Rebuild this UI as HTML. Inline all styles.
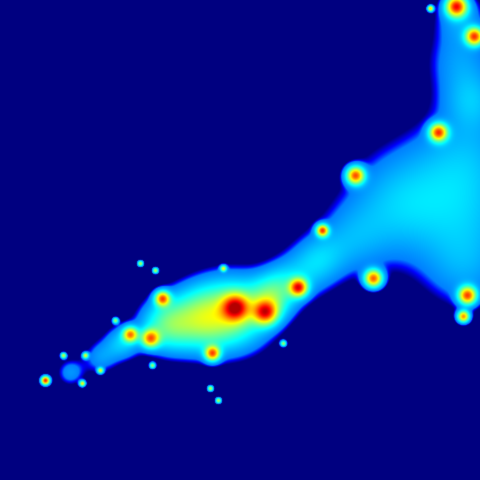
<!DOCTYPE html>
<html>
<head>
<meta charset="utf-8">
<style>
  html, body {
    margin: 0;
    padding: 0;
    background: #00007f;
  }
  #plot {
    display: block;
    width: 480px;
    height: 480px;
  }
</style>
</head>
<body>
<canvas id="plot" width="480" height="480"></canvas>
<script>
// Blob data: centre x, centre y, spread, intensity
const blobX = [430, 390, 465, 460, 350, 300, 470, 460, 320, 280, 100, 70, 235, 200, 165, 270, 122, 472, 480, 438, 355, 322, 373, 298, 235, 265, 162, 150, 130, 212, 467, 463, 456, 474, 45, 140, 155, 223, 283, 218, 210, 82, 63, 85, 100, 115, 152, 430];
const blobY = [200, 205, 270, 60, 240, 275, 150, 15, 258, 285, 357, 372, 312, 318, 325, 300, 342, 100, 215, 132, 175, 230, 278, 287, 307, 312, 298, 338, 334, 353, 295, 316, 6, 36, 380, 263, 270, 268, 343, 400, 388, 383, 355, 355, 370, 320, 365, 8];
const blobR = [45, 35, 30, 25, 25, 20, 35, 18, 18, 15, 12, 10, 25, 22, 18, 15, 12, 20, 35, 6, 6, 4, 6, 6, 9, 8, 5, 6, 5, 5, 6, 4, 7, 6, 3, 2, 2, 2, 2, 2, 2, 2, 2, 2, 2, 2, 2, 2];
const blobA = [0.11, 0.08, 0.09, 0.1, 0.09, 0.1, 0.09, 0.1, 0.1, 0.1, 0.1, 0.1, 0.3, 0.3, 0.25, 0.2, 0.15, 0.1, 0.06, 0.6, 0.6, 0.6, 0.6, 0.6, 0.5, 0.5, 0.55, 0.5, 0.5, 0.55, 0.6, 0.55, 0.65, 0.6, 0.7, 0.4, 0.4, 0.4, 0.35, 0.4, 0.4, 0.45, 0.4, 0.4, 0.4, 0.35, 0.35, 0.5];

// Jet colour map: value 0..1 -> [r, g, b]
function jet(v) {
  const r = Math.min(Math.max(1.5 - Math.abs(4 * v - 3), 0), 1);
  const g = Math.min(Math.max(1.5 - Math.abs(4 * v - 2), 0), 1);
  const b = Math.min(Math.max(1.5 - Math.abs(4 * v - 1), 0), 1);
  return [r * 255, g * 255, b * 255];
}

const cv = document.getElementById('plot');
const ctx = cv.getContext('2d');
const img = ctx.createImageData(480, 480);

for (let y = 0; y < 480; y++) {
  for (let x = 0; x < 480; x++) {
    let f = 0;
    for (let i = 0; i < blobX.length; i++) {
      const dx = x - blobX[i];
      const dy = y - blobY[i];
      const r = blobR[i];
      f += blobA[i] * Math.exp(-(dx * dx + dy * dy) / (2 * r * r));
    }
    let v;
    if (f < 0.05) v = 0;
    else if (f < 0.08) v = (f - 0.05) / 0.03 * 0.25;
    else v = Math.min(0.25 + (f - 0.08) * 0.95, 0.95);
    const c = jet(v);
    const k = (y * 480 + x) * 4;
    img.data[k] = c[0];
    img.data[k + 1] = c[1];
    img.data[k + 2] = c[2];
    img.data[k + 3] = 255;
  }
}
ctx.putImageData(img, 0, 0);
</script>
</body>
</html>
